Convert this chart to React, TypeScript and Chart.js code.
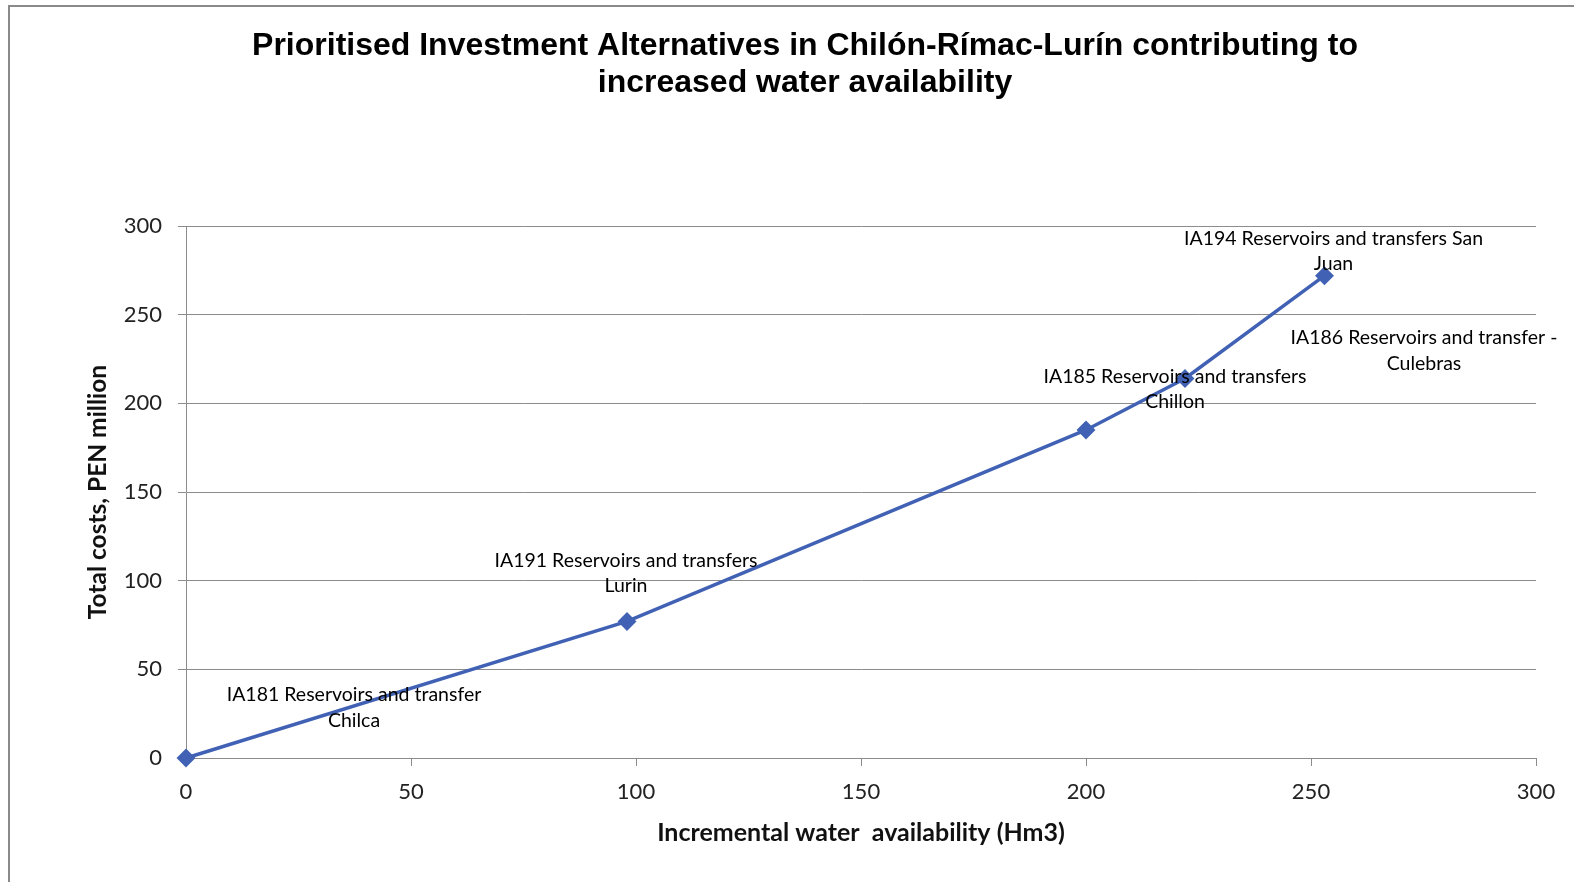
import React, { useEffect, useRef } from 'react';
import { Chart, registerables } from 'chart.js';

Chart.register(...registerables);

// ---- data ----
const waterHm3 = [0, 98, 200, 222, 253];
const costPEN = [0, 77, 185, 214, 272];
const pointLabels: string[][] = [
  ['IA181 Reservoirs and transfer', 'Chilca'],
  ['IA191 Reservoirs and transfers', 'Lurin'],
  ['IA186 Reservoirs and transfer -', 'Culebras'],
  ['IA185 Reservoirs and transfers', 'Chillon'],
  ['IA194 Reservoirs and transfers San', 'Juan'],
];
const titleLines = [
  'Prioritised Investment Alternatives in Chilón-Rímac-Lurín contributing to',
  'increased water availability',
];
const xAxisTitle = 'Incremental water  availability (Hm3)';
const yAxisTitle = 'Total costs, PEN million';

// label placement (pixel offsets from each point, style only)
const labelOffsets: number[][] = [
  [168, -63],
  [-1, -61],
  [338, -92],
  [-10, -2],
  [9, -37],
];

const GRID = '#8c8c8c';
const LINE = '#4162b4';

const labelPlugin = {
  id: 'pointTextLabels',
  afterDatasetsDraw(chart: any) {
    const meta = chart.getDatasetMeta(0);
    const ctx = chart.ctx;
    ctx.save();
    ctx.font = '19.5px Lato, "Noto Sans", sans-serif';
    ctx.fillStyle = '#000';
    ctx.textAlign = 'center';
    ctx.textBaseline = 'middle';
    meta.data.forEach((el: any, i: number) => {
      const off = labelOffsets[i] || [0, -30];
      (pointLabels[i] || []).forEach((line, j) => {
        ctx.fillText(line, el.x + off[0], el.y + off[1] + j * 25.5);
      });
    });
    ctx.restore();
  },
};

function ChartView() {
  const ref = useRef<HTMLCanvasElement | null>(null);
  useEffect(() => {
    if (!ref.current) return;
    const chart = new Chart(ref.current, {
      type: 'scatter',
      data: {
        datasets: [
          {
            label: 'Investment alternatives',
            data: waterHm3.map((x, i) => ({ x, y: costPEN[i] })),
            showLine: true,
            borderColor: LINE,
            backgroundColor: LINE,
            borderWidth: 3.5,
            pointStyle: 'rectRot',
            pointRadius: 7,
            pointHoverRadius: 7,
            tension: 0,
            clip: false,
          },
        ],
      },
      options: {
        animation: false,
        responsive: true,
        maintainAspectRatio: false,
        layout: { padding: { left: 64, right: 38, top: 0, bottom: 24 } },
        plugins: {
          legend: { display: false },
          tooltip: { enabled: false },
          title: {
            display: true,
            text: titleLines,
            color: '#000',
            font: { family: '"Liberation Sans", Arial, sans-serif', size: 32, weight: 'bold', lineHeight: 1.15 },
            padding: { top: 20.5, bottom: 124.9 },
          },
        },
        scales: {
          x: {
            type: 'linear',
            min: 0,
            max: 300,
            afterFit: (s: any) => { s.height = 100; },
            ticks: {
              stepSize: 50,
              padding: 13,
              color: '#222',
              font: { family: 'Lato, sans-serif', size: 22 },
            },
            grid: { drawOnChartArea: false, drawTicks: true, tickLength: 8, color: GRID },
            border: { display: true, color: GRID, width: 1 },
            title: {
              display: true,
              text: xAxisTitle,
              color: '#111',
              font: { family: 'Lato, sans-serif', size: 25, weight: 'bold', lineHeight: 1.2 },
              padding: { top: 0, bottom: 10 },
            },
          },
          y: {
            type: 'linear',
            min: 0,
            max: 300,
            afterFit: (s: any) => { s.width = 112; },
            ticks: {
              stepSize: 50,
              padding: 16,
              color: '#222',
              font: { family: 'Lato, sans-serif', size: 22 },
            },
            grid: { color: GRID, lineWidth: 1, tickLength: 8, drawTicks: true },
            border: { display: true, color: GRID, width: 1 },
            title: {
              display: true,
              text: yAxisTitle,
              color: '#111',
              font: { family: 'Lato, sans-serif', size: 24.5, weight: 'bold', lineHeight: 1.2 },
              padding: { top: 9.3, bottom: 0 },
            },
          },
        },
      },
      plugins: [labelPlugin],
    } as any);
    return () => chart.destroy();
  }, []);
  return (
    <div style={{ position: 'relative', width: 1564, height: 875 }}>
      <canvas ref={ref} />
    </div>
  );
}

export default function App() {
  return (
    <div
      style={{
        position: 'absolute',
        top: 5,
        left: 8,
        borderTop: '2px solid #8a8a8a',
        borderLeft: '2px solid #8a8a8a',
        background: '#fff',
        width: 1564,
        height: 875,
      }}
    >
      <ChartView />
    </div>
  );
}
